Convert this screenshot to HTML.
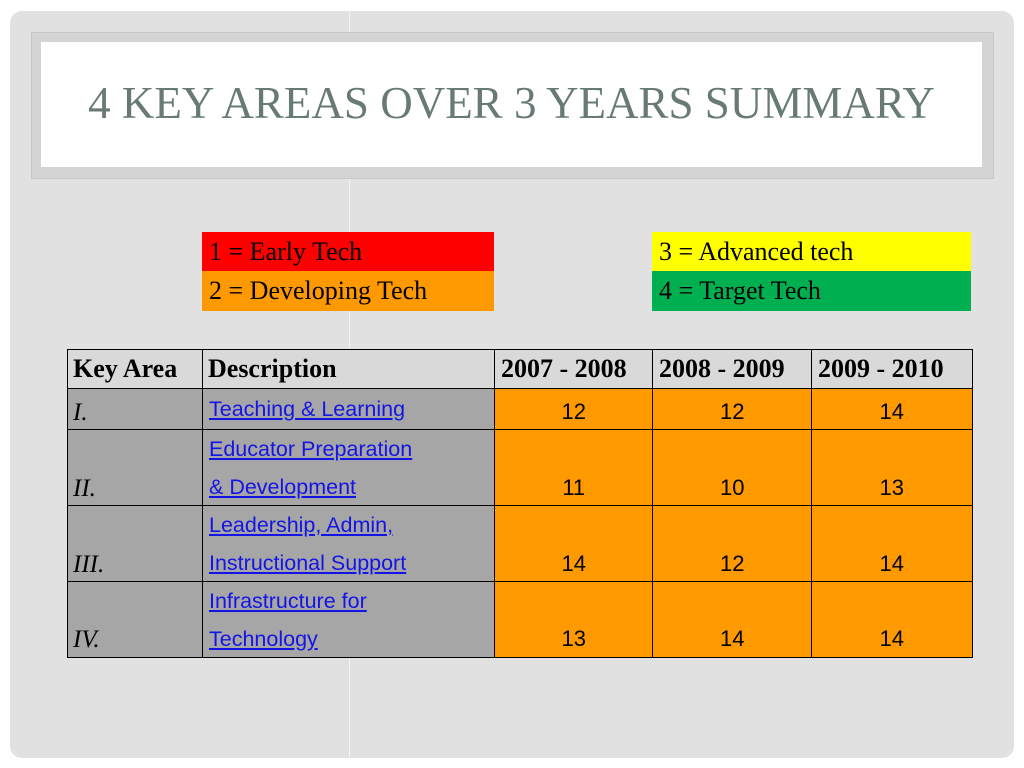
<!DOCTYPE html>
<html><head><meta charset="utf-8"><style>
body{margin:0;width:1024px;height:768px;background:#fff;position:relative;overflow:hidden;font-family:"Liberation Serif",serif}
.abs{position:absolute;box-sizing:border-box}
#frame{left:10px;top:11px;width:1004px;height:747px;background:#e1e1e1;border-radius:12px}
#vline{left:349px;top:11px;width:1px;height:747px;background:#f4f4f4}
#tbox{left:31px;top:32px;width:963px;height:147px;background:#d4d4d4;border:1px solid #c8c8c8}
#tinner{left:41px;top:42px;width:941px;height:125px;background:#fff}
#title{left:41px;top:42px;width:941px;height:125px;text-align:center;line-height:122px;font-size:45px;color:#687a74;font-family:"Liberation Serif",serif;letter-spacing:0px}
.leg{font-size:26px;line-height:39px;padding-left:7px;color:#000}
.cell{border:1.5px solid #000;overflow:hidden}
.hd{background:#d9d9d9;font-weight:bold;font-size:26px;line-height:38px;padding-left:5px}
.ka{background:#a6a6a6;font-style:italic;font-size:25px;padding-left:5px}
.ds{background:#a6a6a6;font-family:"Liberation Sans",sans-serif;font-size:21.5px;padding-left:6px}
.ds a{color:#1414e6;text-decoration:underline;display:block;line-height:38px}
.num{background:#ff9900;font-family:"Liberation Sans",sans-serif;font-size:22px;text-align:center}
</style></head><body>
<div class="abs" id="frame"></div>
<div class="abs" id="vline"></div>
<div class="abs" id="tbox"></div>
<div class="abs" id="tinner"></div>
<div class="abs" id="title">4 KEY AREAS OVER 3 YEARS SUMMARY</div>
<div class="abs leg" style="left:202px;top:232px;width:292px;height:39px;background:#ff0000">1 = Early Tech</div>
<div class="abs leg" style="left:202px;top:271px;width:292px;height:40px;background:#ff9900">2 = Developing Tech</div>
<div class="abs leg" style="left:652px;top:232px;width:319px;height:39px;background:#ffff00">3 = Advanced tech</div>
<div class="abs leg" style="left:652px;top:271px;width:319px;height:40px;background:#00b050">4 = Target Tech</div>
<div id="tbl"></div>
<script>
const years = ["2007 - 2008","2008 - 2009","2009 - 2010"];
const areas = ["I.","II.","III.","IV."];
const descs = [["Teaching & Learning"],["Educator Preparation ","& Development"],["Leadership, Admin, ","Instructional Support"],["Infrastructure for ","Technology"]];
const scores2008 = [12,11,14,13];
const scores2009 = [12,10,12,14];
const scores2010 = [14,13,14,14];
const series = [scores2008, scores2009, scores2010];
const colX = [67,202,494,652,811,971];
const rowY = [349,388,429,505,581,656];
const tbl = document.getElementById('tbl');
function cell(cls, x0, x1, y0, y1){
  const d = document.createElement('div');
  d.className = 'abs cell ' + cls;
  d.style.left = x0 + 'px'; d.style.top = y0 + 'px';
  d.style.width = (x1 - x0 + 1.5) + 'px'; d.style.height = (y1 - y0 + 1.5) + 'px';
  tbl.appendChild(d); return d;
}
let h = cell('hd', colX[0], colX[1], rowY[0], rowY[1]); h.textContent = 'Key Area';


h = cell('hd', colX[1], colX[2], rowY[0], rowY[1]); h.textContent = 'Description';


years.forEach((y, j) => {
  const c = cell('hd', colX[2+j], colX[3+j], rowY[0], rowY[1]); c.textContent = y; c.style.paddingLeft = '6px';
  
  
});
areas.forEach((a, i) => {
  const y0 = rowY[i+1], y1 = rowY[i+2], hgt = y1 - y0;
  const k = cell('ka', colX[0], colX[1], y0, y1);
  k.innerHTML = '<div style="position:absolute;bottom:3px;left:5px">' + a + '</div>';
  
  
  const d = cell('ds', colX[1], colX[2], y0, y1);
  d.style.paddingTop = (hgt > 50 ? 0 : 1) + 'px';
  descs[i].forEach(t => {
    const l = document.createElement('a');
    l.href = '#'; l.textContent = t;
    
    
    d.appendChild(l);
  });
  
  
  series.forEach((s, j) => {
    const n = cell('num', colX[2+j], colX[3+j], y0, y1);
    n.innerHTML = '<div style="position:absolute;bottom:5px;width:100%">' + s[i] + '</div>';
    
    
  });
});
</script>
</body></html>
